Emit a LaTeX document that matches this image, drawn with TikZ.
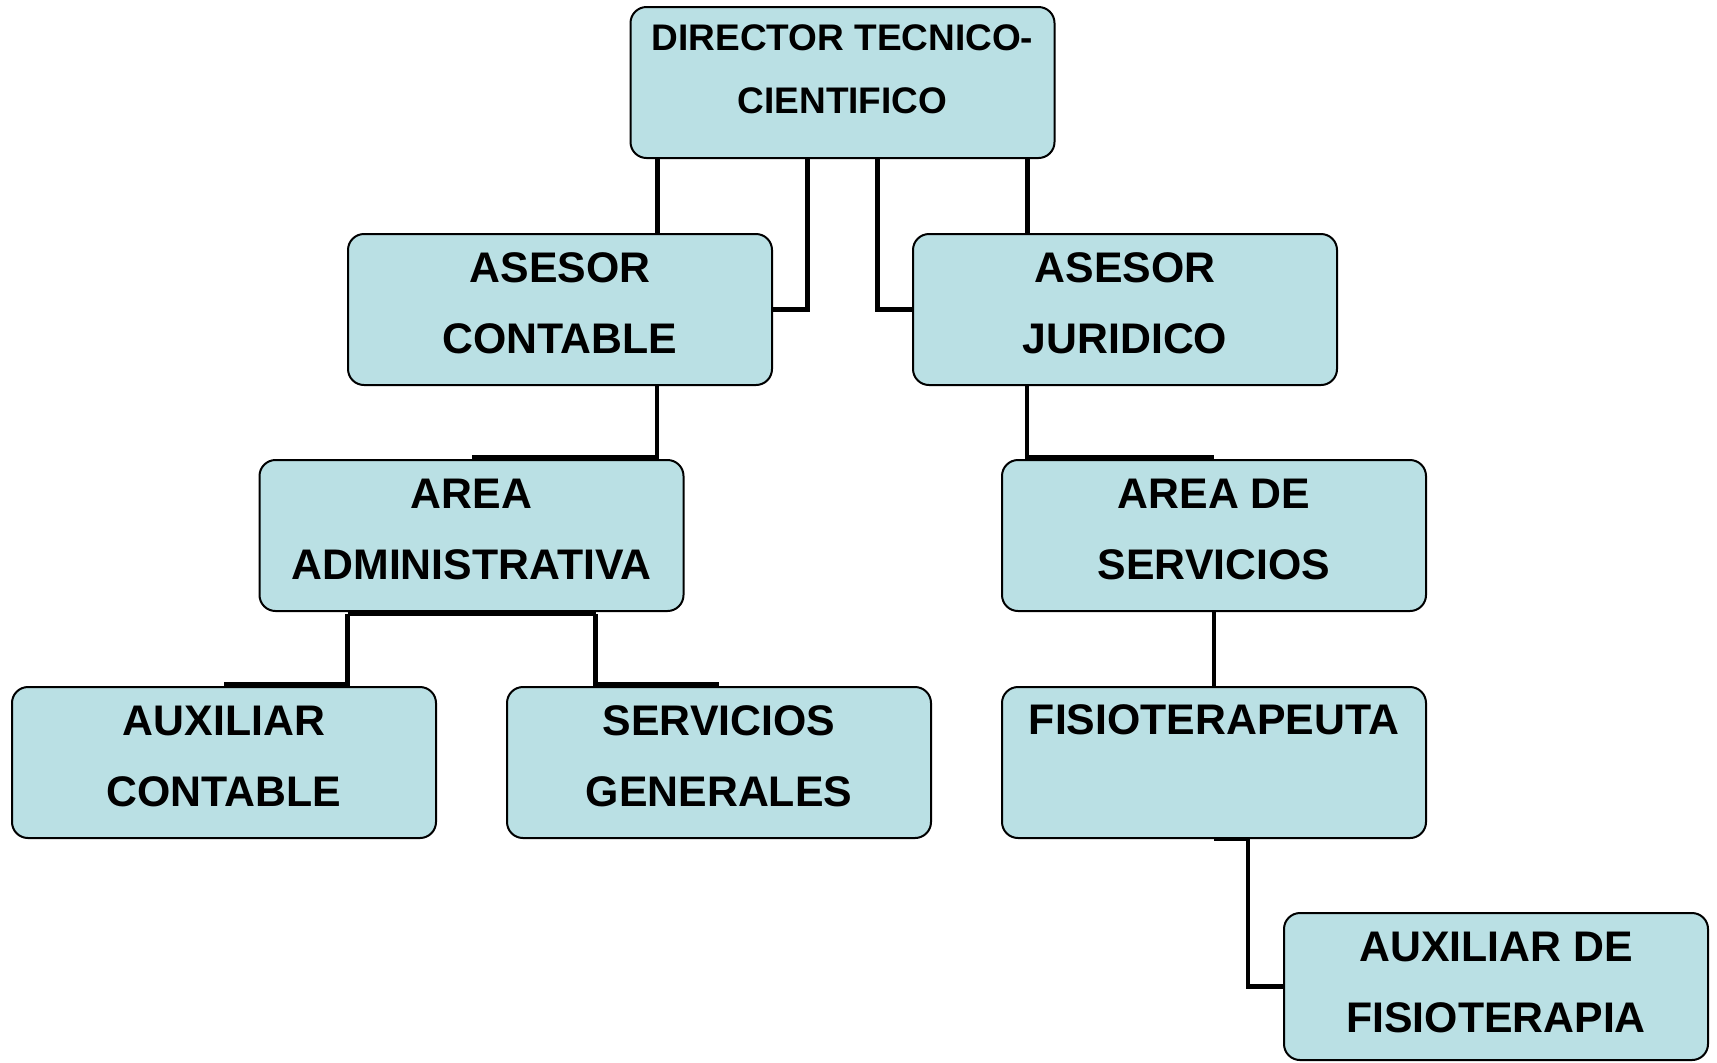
\documentclass[tikz,border=0pt]{standalone}
\usepackage{fontspec}
\setmainfont{Liberation Sans}
\usepackage{xcolor}
\definecolor{orgfill}{RGB}{186,224,228}
\definecolor{orgline}{RGB}{0,0,0}
\usetikzlibrary{calc,backgrounds}

\begin{document}
\begin{tikzpicture}[x=0.5pt,y=-0.5pt,
  cargo/.style={draw=orgline,line width=1pt,rounded corners=8pt,fill=orgfill,
    minimum width=212pt,minimum height=75.5pt,inner sep=0pt,align=center,
    font=\fontsize{21.4pt}{35.5pt}\selectfont\bfseries,
    text height=55pt,text depth=11.5pt},
  linea/.style={draw=orgline,line width=2.3pt}]
\useasboundingbox (0,0) rectangle (1717,1062);

\node[cargo,font=\fontsize{18.5pt}{31.5pt}\selectfont\bfseries,text height=50pt,text depth=19.5pt]
  (dir) at (842.5,82.5) {DIRECTOR TECNICO-\\CIENTIFICO};
\node[cargo] (ac) at (560,309.5) {ASESOR\\CONTABLE};
\node[cargo] (aj) at (1125,309.5) {ASESOR\\JURIDICO};
\node[cargo] (aa) at (471.5,535.5) {AREA\\ADMINISTRATIVA};
\node[cargo] (ads) at (1214,535.5) {AREA DE\\SERVICIOS};
\node[cargo] (auxc) at (224,762.5) {AUXILIAR\\CONTABLE};
\node[cargo] (sg) at (719,762.5) {SERVICIOS\\GENERALES};
\node[cargo,text height=22.5pt,text depth=51pt] (fis) at (1214,762.5) {FISIOTERAPEUTA};
\node[cargo,minimum height=73.5pt,text depth=9.5pt] (auxf) at (1496,986.5) {AUXILIAR DE\\FISIOTERAPIA};

\begin{scope}[on background layer]
  % director -> asesores
  \draw[linea] ($(dir.south)+(-185,0)$) coordinate (d1) -- (d1 |- ac.north);
  \draw[linea] ($(dir.south)+(-35,0)$) |- (ac.east);
  \draw[linea] ($(dir.south)+(35,0)$) |- (aj.west);
  \draw[linea] ($(dir.south)+(185,0)$) coordinate (d4) -- (d4 |- aj.north);
  % asesores -> areas
  \draw[linea] ($(ac.south)+(97,0)$) |- ($(aa.north)+(0,-2)$);
  \draw[linea] ($(aj.south)+(-98,0)$) |- ($(ads.north)+(0,-2)$);
  % area administrativa
  \draw[linea] ($(aa.south)+(-124,2)$) coordinate (a1) -- ($(aa.south)+(124,2)$) coordinate (a2);
  \draw[linea] (a1) |- ($(auxc.north)+(0,-2)$);
  \draw[linea] (a2) |- ($(sg.north)+(0,-2)$);
  % area de servicios
  \draw[linea] (ads.south) -- (fis.north);
  \draw[linea] (fis.south) -- ++(34,0) |- (auxf.west);
\end{scope}
\end{tikzpicture}
\end{document}
